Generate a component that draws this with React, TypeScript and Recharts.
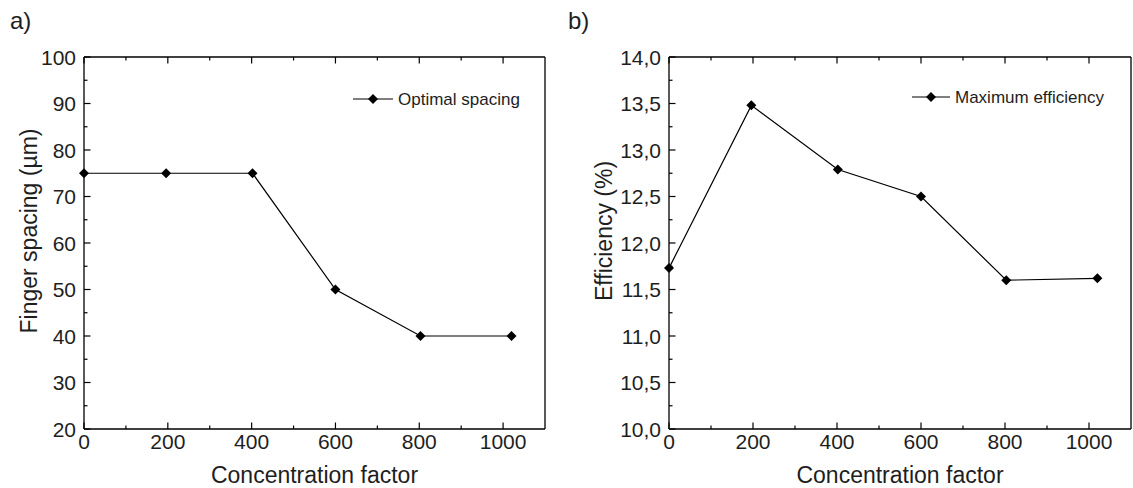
import React from 'react';
import { LineChart, Line, XAxis, YAxis } from 'recharts';

// ---------- data ----------
const concentration = [0, 196, 402, 600, 803, 1020];
const fingerSpacing = [75, 75, 75, 50, 40, 40];
const efficiency = [11.73, 13.48, 12.79, 12.5, 11.6, 11.62];

const xTicks = [0, 100, 200, 300, 400, 500, 600, 700, 800, 900, 1000];
const xMajorTicks = [0, 200, 400, 600, 800, 1000];
const spacingTicks = [20, 25, 30, 35, 40, 45, 50, 55, 60, 65, 70, 75, 80, 85, 90, 95, 100];
const spacingMajorTicks = [20, 30, 40, 50, 60, 70, 80, 90, 100];
const effTicks = [10, 10.25, 10.5, 10.75, 11, 11.25, 11.5, 11.75, 12, 12.25, 12.5, 12.75, 13, 13.25, 13.5, 13.75, 14];
const effMajorTicks = [10, 10.5, 11, 11.5, 12, 12.5, 13, 13.5, 14];

const spacingData = concentration.map((c, i) => ({ c, v: fingerSpacing[i] }));
const effData = concentration.map((c, i) => ({ c, v: efficiency[i] }));

// ---------- styles ----------
const FONT = '"Liberation Sans", Arial, Helvetica, sans-serif';
const TEXT = '#1e1e1e';
const MAJ = 6.5;
const MIN = 3.5;
const AX = { stroke: '#000', strokeWidth: 1.3 };

const isIn = (arr: number[], v: number) => arr.some((a) => Math.abs(a - v) < 1e-6);

const makeXTick = (major: number[], showLabel: boolean, dir: number) => (props: any) => {
  const { x, y, payload } = props;
  const v = payload.value;
  const isMajor = isIn(major, v);
  const len = isMajor ? MAJ : MIN;
  return (
    <g>
      <line x1={x} x2={x} y1={y} y2={y - dir * len} stroke="#000" strokeWidth={1.2} />
      {showLabel && isMajor && (
        <text x={x} y={y + 20} textAnchor="middle" fontSize={21} fill={TEXT} fontFamily={FONT}>
          {v}
        </text>
      )}
    </g>
  );
};

const makeYTick = (major: number[], showLabel: boolean, dir: number, fmt: (v: number) => string) => (props: any) => {
  const { x, y, payload } = props;
  const v = payload.value;
  const isMajor = isIn(major, v);
  const len = isMajor ? MAJ : MIN;
  return (
    <g>
      <line x1={x} x2={x + dir * len} y1={y} y2={y} stroke="#000" strokeWidth={1.2} />
      {showLabel && isMajor && (
        <text x={x - 8} y={y + 7.5} textAnchor="end" fontSize={21} fill={TEXT} fontFamily={FONT}>
          {fmt(v)}
        </text>
      )}
    </g>
  );
};

const Diamond = (props: any) => {
  const { cx, cy } = props;
  if (cx == null || cy == null) return null;
  const r = 5;
  return <polygon points={`${cx},${cy - r} ${cx + r},${cy} ${cx},${cy + r} ${cx - r},${cy}`} fill="#000" />;
};

const xTitle = (props: any) => {
  const vb = props.viewBox || {};
  return (
    <text x={vb.x + vb.width / 2} y={vb.y + 54} textAnchor="middle" fontSize={23} fill={TEXT} fontFamily={FONT}>
      Concentration factor
    </text>
  );
};

const makeYTitle = (text: string, offset: number) => (props: any) => {
  const vb = props.viewBox || {};
  const tx = vb.x + vb.width - offset;
  const ty = vb.y + vb.height / 2 - 12;
  return (
    <text x={tx} y={ty} transform={`rotate(-90, ${tx}, ${ty})`} textAnchor="middle" fontSize={23} fill={TEXT} fontFamily={FONT}>
      {text}
    </text>
  );
};

const fmtInt = (v: number) => String(v);
const fmtComma = (v: number) => v.toFixed(1).replace('.', ',');

type PanelProps = {
  data: { c: number; v: number }[];
  width: number;
  yWidth: number;
  right: number;
  domain: [number, number];
  yTicks: number[];
  yMajor: number[];
  fmt: (v: number) => string;
  title: string;
  titleOffset: number;
};

const Panel = ({ data, width, yWidth, right, domain, yTicks, yMajor, fmt, title, titleOffset }: PanelProps) => (
  <LineChart width={width} height={488} data={data} margin={{ top: 56, right: right - 1, bottom: 0, left: 0 }}>
    <XAxis
      dataKey="c"
      type="number"
      domain={[0, 1100]}
      ticks={xTicks}
      interval={0}
      height={59}
      tickSize={0}
      tickMargin={0}
      tickLine={false}
      axisLine={AX}
      tick={makeXTick(xMajorTicks, true, 1)}
      label={xTitle}
    />
    <XAxis
      xAxisId="top"
      orientation="top"
      dataKey="c"
      type="number"
      domain={[0, 1100]}
      ticks={xTicks}
      interval={0}
      height={1}
      tickSize={0}
      tickMargin={0}
      tickLine={false}
      axisLine={AX}
      tick={makeXTick(xMajorTicks, false, -1)}
    />
    <YAxis
      type="number"
      domain={domain}
      ticks={yTicks}
      interval={0}
      width={yWidth}
      tickSize={0}
      tickMargin={0}
      tickLine={false}
      axisLine={AX}
      tick={makeYTick(yMajor, true, 1, fmt)}
      label={makeYTitle(title, titleOffset)}
    />
    <YAxis
      yAxisId="right"
      orientation="right"
      type="number"
      domain={domain}
      ticks={yTicks}
      interval={0}
      width={1}
      tickSize={0}
      tickMargin={0}
      tickLine={false}
      axisLine={AX}
      tick={makeYTick(yMajor, false, -1, fmt)}
    />
    <Line
      type="linear"
      dataKey="v"
      stroke="#000"
      strokeWidth={1.2}
      dot={<Diamond />}
      activeDot={false}
      isAnimationActive={false}
    />
  </LineChart>
);

const LegendItem = ({ x1, x2, y, text }: { x1: number; x2: number; y: number; text: string }) => {
  const cx = (x1 + x2) / 2;
  const r = 5;
  return (
    <g>
      <line x1={x1} x2={x2} y1={y} y2={y} stroke="#000" strokeWidth={1.2} />
      <polygon points={`${cx},${y - r} ${cx + r},${y} ${cx},${y + r} ${cx - r},${y}`} fill="#000" />
      <text x={x2 + 5} y={y + 6} fontSize={17} fill={TEXT} fontFamily={FONT}>
        {text}
      </text>
    </g>
  );
};

export default function App() {
  return (
    <div style={{ position: 'absolute', left: 0, top: 0, width: 1133, height: 488, background: '#fff', overflow: 'hidden' }}>
      <div style={{ position: 'absolute', left: 0, top: 0 }}>
        <Panel
          data={spacingData}
          width={560}
          yWidth={84}
          right={15}
          domain={[20, 100]}
          yTicks={spacingTicks}
          yMajor={spacingMajorTicks}
          fmt={fmtInt}
          title="Finger spacing (µm)"
          titleOffset={47}
        />
      </div>
      <div style={{ position: 'absolute', left: 560, top: 0 }}>
        <Panel
          data={effData}
          width={573}
          yWidth={109}
          right={2}
          domain={[10, 14]}
          yTicks={effTicks}
          yMajor={effMajorTicks}
          fmt={fmtComma}
          title="Efficiency (%)"
          titleOffset={57}
        />
      </div>
      <svg width={1133} height={488} style={{ position: 'absolute', left: 0, top: 0, pointerEvents: 'none' }}>
        <text x={10} y={29} fontSize={24} fill={TEXT} fontFamily={FONT}>a)</text>
        <text x={568} y={29} fontSize={24} fill={TEXT} fontFamily={FONT}>b)</text>
        <LegendItem x1={353} x2={393} y={99} text="Optimal spacing" />
        <LegendItem x1={912} x2={950} y={97} text="Maximum efficiency" />
      </svg>
    </div>
  );
}
